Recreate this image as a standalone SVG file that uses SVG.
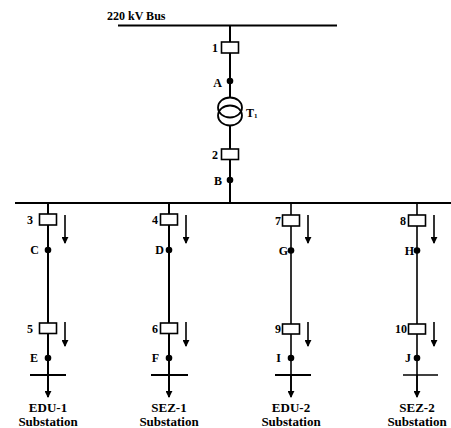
<svg xmlns="http://www.w3.org/2000/svg" width="451" height="428" viewBox="0 0 451 428">
<defs>
<style>
.ln{stroke:#000;stroke-width:2;fill:none}
.thin{stroke:#000;stroke-width:1.6;fill:none}
.bus{stroke:#000;stroke-width:1.8;fill:none}
.brk{fill:#fff;stroke:#000;stroke-width:1.6}
.dot{fill:#000}
.lb{font-family:"Liberation Serif","Times New Roman",serif;font-weight:bold;font-size:12px;fill:#000}
.lbr{font-family:"Liberation Serif","Times New Roman",serif;font-weight:bold;font-size:12px;fill:#000;text-anchor:end}
.sub{font-family:"Liberation Serif","Times New Roman",serif;font-weight:bold;font-size:13px;fill:#000;text-anchor:middle}
</style>
<marker id="ah" viewBox="0 0 8 8" refX="7" refY="4" markerWidth="7" markerHeight="7" markerUnits="userSpaceOnUse" orient="auto">
<path d="M0,0 L8,4 L0,8 Z" fill="#000"/>
</marker>
</defs>
<rect width="451" height="428" fill="#fff"/>

<g id="connectors">
<line class="ln" x1="230" y1="25" x2="230" y2="98"/>
<line class="ln" x1="230" y1="125" x2="230" y2="203"/>
<line class="ln" x1="48" y1="203" x2="48" y2="392"/>
<line class="ln" x1="169" y1="203" x2="169" y2="392"/>
<line class="thin" x1="291" y1="203" x2="291" y2="392"/>
<line class="thin" x1="417" y1="203" x2="417" y2="392"/>
<line class="ln" x1="48" y1="375" x2="48" y2="397" marker-end="url(#ah)"/>
<line class="ln" x1="169" y1="375" x2="169" y2="397" marker-end="url(#ah)"/>
<line class="thin" x1="291" y1="375" x2="291" y2="397" marker-end="url(#ah)"/>
<line class="thin" x1="417" y1="375" x2="417" y2="397" marker-end="url(#ah)"/>
<line class="thin" x1="65" y1="215" x2="65" y2="243" marker-end="url(#ah)"/>
<line class="thin" x1="65" y1="322" x2="65" y2="346" marker-end="url(#ah)"/>
<line class="thin" x1="186" y1="215" x2="186" y2="243" marker-end="url(#ah)"/>
<line class="thin" x1="186" y1="322" x2="186" y2="346" marker-end="url(#ah)"/>
<line class="thin" x1="308" y1="215" x2="308" y2="243" marker-end="url(#ah)"/>
<line class="thin" x1="308" y1="322" x2="308" y2="346" marker-end="url(#ah)"/>
<line class="thin" x1="434" y1="215" x2="434" y2="243" marker-end="url(#ah)"/>
<line class="thin" x1="434" y1="322" x2="434" y2="346" marker-end="url(#ah)"/>
</g>

<g id="bus220">
<line class="bus" x1="118" y1="25.5" x2="337" y2="25.5"/>
<text class="lb" x="107" y="20" font-size="11.5">220 kV Bus</text>
</g>

<g id="bus-lower">
<line class="bus" x1="15" y1="203" x2="451" y2="203"/>
</g>

<g id="breaker1"><rect class="brk" x="221.5" y="42" width="17" height="11"/><text class="lbr" x="218" y="52">1</text></g>
<g id="nodeA"><circle class="dot" cx="230" cy="81" r="3.3"/><text class="lbr" x="222" y="87">A</text></g>
<g id="transformerT1">
<ellipse cx="230" cy="107.5" rx="12" ry="10" fill="none" stroke="#000" stroke-width="1.8"/>
<ellipse cx="230" cy="115.5" rx="12" ry="10" fill="none" stroke="#000" stroke-width="1.8"/>
<text class="lb" x="246" y="117">T<tspan font-size="7" dy="1">1</tspan></text>
</g>
<g id="breaker2"><rect class="brk" x="221.5" y="149" width="17" height="10.5"/><text class="lbr" x="218" y="159">2</text></g>
<g id="nodeB"><circle class="dot" cx="230" cy="180" r="3.3"/><text class="lbr" x="222" y="185">B</text></g>

<g id="breaker3"><rect class="brk" x="39.5" y="214" width="17" height="11"/><text class="lbr" x="33" y="224">3</text></g>
<g id="nodeC"><circle class="dot" cx="48" cy="250" r="3.3"/><text class="lbr" x="39" y="254">C</text></g>
<g id="breaker5"><rect class="brk" x="39.5" y="323" width="17" height="10.5"/><text class="lbr" x="33" y="333">5</text></g>
<g id="nodeE"><circle class="dot" cx="48" cy="358" r="3.3"/><text class="lbr" x="38" y="362">E</text></g>
<g id="loadEDU1"><line class="ln" x1="30" y1="375" x2="66" y2="375"/><text class="sub" x="48" y="412">EDU-1</text><text class="sub" x="48" y="426">Substation</text></g>

<g id="breaker4"><rect class="brk" x="160.5" y="214" width="17" height="11"/><text class="lbr" x="158" y="224">4</text></g>
<g id="nodeD"><circle class="dot" cx="169" cy="250" r="3.3"/><text class="lbr" x="164" y="254">D</text></g>
<g id="breaker6"><rect class="brk" x="160.5" y="323" width="17" height="10.5"/><text class="lbr" x="158" y="333">6</text></g>
<g id="nodeF"><circle class="dot" cx="169" cy="358" r="3.3"/><text class="lbr" x="159" y="362">F</text></g>
<g id="loadSEZ1"><line class="ln" x1="151" y1="375" x2="188" y2="375"/><text class="sub" x="169" y="412">SEZ-1</text><text class="sub" x="169" y="426">Substation</text></g>

<g id="breaker7"><rect class="brk" x="282.5" y="215" width="17" height="11"/><text class="lbr" x="281" y="225">7</text></g>
<g id="nodeG"><circle class="dot" cx="291" cy="250.5" r="3.3"/><text class="lbr" x="288" y="255">G</text></g>
<g id="breaker9"><rect class="brk" x="282.5" y="324" width="17" height="10"/><text class="lbr" x="281" y="333">9</text></g>
<g id="nodeI"><circle class="dot" cx="291" cy="358" r="3.3"/><text class="lbr" x="281" y="362">I</text></g>
<g id="loadEDU2"><line class="ln" x1="275" y1="375" x2="311" y2="375"/><text class="sub" x="291" y="412">EDU-2</text><text class="sub" x="291" y="426">Substation</text></g>

<g id="breaker8"><rect class="brk" x="408.5" y="215" width="17" height="11"/><text class="lbr" x="406" y="225">8</text></g>
<g id="nodeH"><circle class="dot" cx="417" cy="250.5" r="3.3"/><text class="lbr" x="414" y="255">H</text></g>
<g id="breaker10"><rect class="brk" x="408.5" y="324" width="17" height="10"/><text class="lbr" x="407" y="333">10</text></g>
<g id="nodeJ"><circle class="dot" cx="417" cy="358" r="3.3"/><text class="lbr" x="411" y="362">J</text></g>
<g id="loadSEZ2"><line class="thin" x1="403" y1="375" x2="438" y2="375"/><text class="sub" x="417" y="412">SEZ-2</text><text class="sub" x="417" y="426">Substation</text></g>
</svg>
